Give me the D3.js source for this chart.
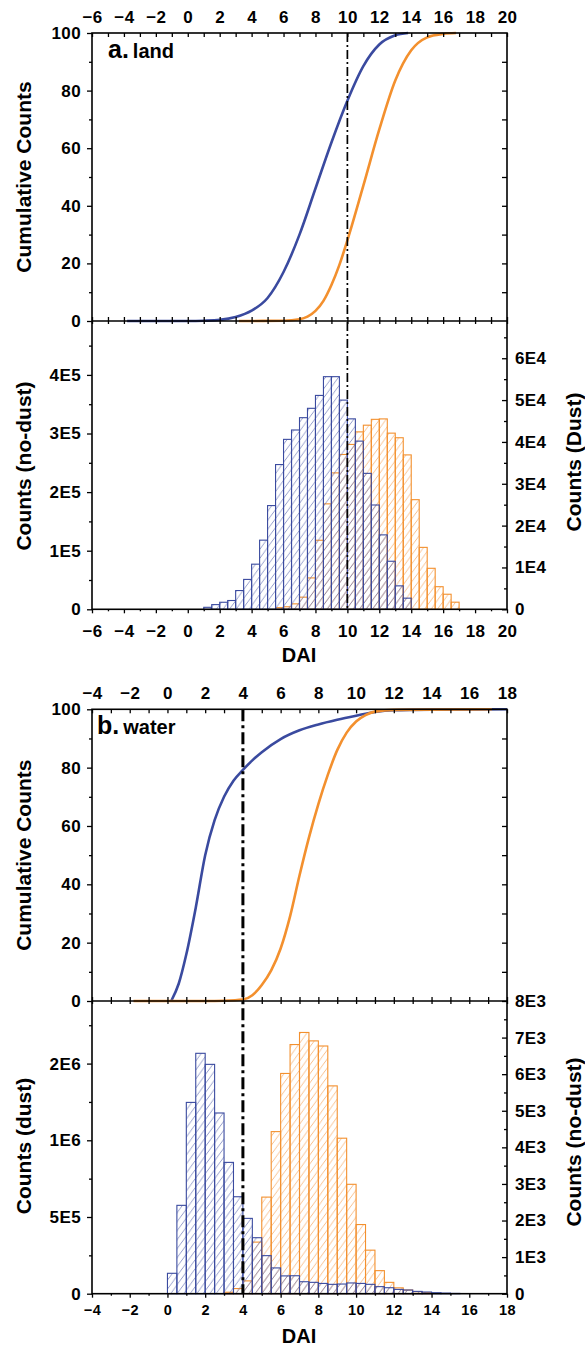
<!DOCTYPE html>
<html>
<head>
<meta charset="utf-8">
<script src="https://cdn.jsdelivr.net/npm/d3@7"></script>
<style>
	body { margin: 0; background: #fff; }
	svg text { font-family: "Liberation Sans", Arial, Helvetica, sans-serif; font-weight: bold; fill: #000; }
</style>
</head>
<body>
<div id="chart"></div>
<script>

// DATA
// bin width for all histograms
const BIN = 0.5;

// panel a - land
const landNoDustStart = 1.0;
const landNoDustCounts = [3.4e3, 8e3, 1.2e4, 1.5e4, 3.2e4, 5.1e4, 7.7e4, 1.18e5, 1.77e5, 2.47e5, 2.9e5, 3.06e5, 3.27e5,
	3.43e5, 3.65e5, 3.97e5, 3.97e5, 3.57e5, 3.25e5, 2.87e5, 2.32e5, 1.78e5, 1.27e5, 8.2e4, 4.0e4, 1.9e4];
const landDustStart = 5.5;
const landDustCounts = [400, 600, 1300, 2900, 7500, 16500, 25200, 32600, 37000, 39400, 42400, 44000, 45400,
	45500, 42100, 41000, 36900, 26200, 14800, 9800, 5400, 3600, 1700];
const landCumNoDustX = [-3.8, 0, 1, 2, 3, 4, 5, 6, 7, 8, 9, 10, 11, 12, 13, 13.8];
const landCumNoDustY = [0, 0, 0.1, 0.4, 1.4, 3.6, 8, 17, 30, 46, 62, 76.5, 88.5, 96, 99.2, 100];
const landCumDustX = [3.2, 6, 7, 7.5, 8, 8.5, 9, 9.5, 10, 11, 12, 13, 14, 15, 16, 16.8];
const landCumDustY = [0, 0.1, 0.6, 1.5, 3.5, 7, 12.5, 19.5, 28, 47, 66.5, 83.5, 94, 98.5, 99.7, 100];
const landThreshold = 10;

// panel b - water
const waterBlueStart = 0.0;
const waterBlueCounts = [1.33e5, 5.76e5, 1.247e6, 1.567e6, 1.495e6, 1.178e6, 8.56e5, 6.32e5, 4.91e5, 3.65e5, 2.48e5,
	1.68e5, 1.16e5, 1.17e5, 7.8e4, 7.4e4, 6.7e4, 6.1e4, 6.3e4, 7.0e4, 6.7e4, 6.1e4, 4.6e4, 3.9e4, 2.8e4, 2.4e4,
	1.5e4, 1.1e4, 6.5e3, 4e3, 2e3];
const waterOrangeStart = 3.0;
const waterOrangeCounts = [40, 140, 350, 1410, 2640, 4430, 6020, 6810, 7140, 6910, 6770, 5680, 4250, 2990,
	1890, 1190, 630, 310, 160, 100, 55, 27];
const waterCumBlueX = [0.2, 0.6, 1, 1.5, 2, 2.5, 3, 3.5, 4, 4.5, 5, 6, 7, 8, 9, 10, 11, 12, 14, 18];
const waterCumBlueY = [0, 6, 16, 32, 50, 62, 70, 75.5, 79.2, 82.5, 85.3, 89.8, 92.8, 94.8, 96.4, 97.8, 99.1, 99.7, 99.9, 100];
const waterCumOrangeX = [-1.8, 2, 3, 4, 4.5, 5, 5.5, 6, 6.5, 7, 7.5, 8, 8.5, 9, 9.5, 10, 10.5, 11, 12, 17.2];
const waterCumOrangeY = [0, 0, 0.1, 0.5, 2, 5.5, 10.5, 18, 29, 43, 56, 67.5, 77.5, 86, 92, 95.8, 98, 99.2, 99.8, 100];
const waterThreshold = 4;

// tick labels
const landLeftTicks = [0, 1e5, 2e5, 3e5, 4e5];
const landLeftLabels = ["0", "1E5", "2E5", "3E5", "4E5"];
const landRightTicks = [0, 1e4, 2e4, 3e4, 4e4, 5e4, 6e4];
const landRightLabels = ["0", "1E4", "2E4", "3E4", "4E4", "5E4", "6E4"];
const waterLeftTicks = [0, 5e5, 1e6, 1.5e6];
const waterLeftLabels = ["0", "5E5", "1E6", "2E6"];
const waterRightTicks = [0, 1e3, 2e3, 3e3, 4e3, 5e3, 6e3, 7e3, 8e3];
const waterRightLabels = ["0", "1E3", "2E3", "3E3", "4E3", "5E3", "6E3", "7E3", "8E3"];

// colours
const BLUE = "#3a4a9f";
const ORANGE = "#f3902e";


const svg = d3.select("#chart").append("svg")
	.attr("width", 585)
	.attr("height", 1346);

// hatch patterns
const defs = svg.append("defs");
const hatch = (id, color) => {
	defs.append("pattern")
		.attr("id", id)
		.attr("patternUnits", "userSpaceOnUse")
		.attr("width", 6.5)
		.attr("height", 9)
		.append("path")
		.attr("d", "M-6.5,9L0,0M0,9L6.5,0M6.5,9L13,0")
		.attr("stroke", color)
		.attr("stroke-width", 0.7);
};
hatch("hatch-blue", "#6874b6");
hatch("hatch-orange", "#f5a65e");


const bins = (start, counts) => counts.map((c, i) => ({ x0: start + i * BIN, x1: start + (i + 1) * BIN, c }));

const styleAxis = (g, size) => {
	g.select(".domain").remove();
	g.selectAll("line").attr("stroke", "#000").attr("stroke-width", 1.3);
	g.selectAll("text").style("font-size", size + "px").style("letter-spacing", "0.4px");
};


function drawPanel(p) {
	const g = svg.append("g");
	const x = d3.scaleLinear().domain(p.xDomain).range([92, 507]);
	const yCum = d3.scaleLinear().domain([0, 100]).range([p.yMid, p.yTop]);
	const yL = d3.scaleLinear().domain([0, p.leftMax]).range([p.yBot, p.yMid]);
	const yR = d3.scaleLinear().domain([0, p.rightMax]).range([p.yBot, p.yMid]);

	const allX = d3.range(p.xDomain[0], p.xDomain[1] + 1, 1);
	const evenX = allX.filter(d => d % 2 === 0);
	const oddX = allX.filter(d => d % 2 !== 0);

	// histograms (transparent, hatched)
	const drawBars = (data, scale, pat, color) => {
		g.append("g").selectAll("rect")
			.data(data)
			.enter()
			.append("rect")
			.attr("x", d => x(d.x0))
			.attr("width", d => x(d.x1) - x(d.x0))
			.attr("y", d => scale(d.c))
			.attr("height", d => p.yBot - scale(d.c))
			.attr("fill", `url(#${pat})`)
			.attr("stroke", color)
			.attr("stroke-width", 1.1);
	};
	drawBars(p.orange, p.orangeScale === "L" ? yL : yR, "hatch-orange", ORANGE);
	drawBars(p.blue, p.blueScale === "L" ? yL : yR, "hatch-blue", BLUE);

	// cumulative curves
	const line = d3.line().x(d => x(d[0])).y(d => yCum(d[1])).curve(d3.curveMonotoneX);
	g.append("path")
		.datum(d3.zip(p.cumBlueX, p.cumBlueY))
		.attr("d", line)
		.attr("fill", "none")
		.attr("stroke", BLUE)
		.attr("stroke-width", 2.6);
	g.append("path")
		.datum(d3.zip(p.cumOrangeX, p.cumOrangeY))
		.attr("d", line)
		.attr("fill", "none")
		.attr("stroke", ORANGE)
		.attr("stroke-width", 2.6);

	// threshold
	g.append("line")
		.attr("x1", x(p.threshold)).attr("x2", x(p.threshold))
		.attr("y1", p.yTop).attr("y2", p.yBot)
		.attr("stroke", "#000")
		.attr("stroke-width", p.thrWidth)
		.attr("stroke-dasharray", p.thrDash);

	// frame
	g.append("rect")
		.attr("x", 92).attr("y", p.yTop)
		.attr("width", 415).attr("height", p.yBot - p.yTop)
		.attr("fill", "none").attr("stroke", "#000").attr("stroke-width", 1.6);
	g.append("line")
		.attr("x1", 92).attr("x2", 507)
		.attr("y1", p.yMid).attr("y2", p.yMid)
		.attr("stroke", "#000").attr("stroke-width", 1.6);

	// top axis
	g.append("g").attr("transform", `translate(0,${p.yTop})`)
		.call(d3.axisTop(x).tickValues(evenX).tickSize(-4).tickPadding(p.topPad).tickFormat(d3.format("d")))
		.call(a => styleAxis(a, 17));
	g.append("g").attr("transform", `translate(0,${p.yTop})`)
		.call(d3.axisTop(x).tickValues(oddX).tickSize(-4).tickFormat(""))
		.call(a => styleAxis(a, 17));

	// middle line ticks (both sides)
	g.append("g").attr("transform", `translate(0,${p.yMid})`)
		.call(d3.axisBottom(x).tickValues(allX).tickSize(-4).tickFormat(""))
		.call(a => styleAxis(a, 17));
	g.append("g").attr("transform", `translate(0,${p.yMid})`)
		.call(d3.axisTop(x).tickValues(allX).tickSize(-3).tickFormat(""))
		.call(a => styleAxis(a, 17));

	// bottom axis
	g.append("g").attr("transform", `translate(0,${p.yBot})`)
		.call(d3.axisBottom(x).tickValues(evenX).tickSize(4).tickPadding(p.botPad).tickFormat(d3.format("d")))
		.call(a => styleAxis(a, p.botFont));
	g.append("g").attr("transform", `translate(0,${p.yBot})`)
		.call(d3.axisBottom(x).tickValues(oddX).tickSize(2).tickFormat(""))
		.call(a => styleAxis(a, 17));

	// cumulative left
	g.append("g").attr("transform", "translate(92,0)")
		.call(d3.axisLeft(yCum).tickValues([0, 20, 40, 60, 80, 100]).tickSize(5).tickPadding(6))
		.call(a => styleAxis(a, 17));
	g.append("g").attr("transform", "translate(92,0)")
		.call(d3.axisLeft(yCum).tickValues([10, 30, 50, 70, 90]).tickSize(3).tickFormat(""))
		.call(a => styleAxis(a, 17));
	// cumulative right
	g.append("g").attr("transform", "translate(507,0)")
		.call(d3.axisRight(yCum).tickValues(d3.range(10, 100, 10)).tickSize(-5).tickFormat(""))
		.call(a => styleAxis(a, 17));

	// histogram left
	g.append("g").attr("transform", "translate(92,0)")
		.call(d3.axisLeft(yL).tickValues(p.leftTicks).tickSize(5).tickPadding(6).tickFormat((d, i) => p.leftLabels[i]))
		.call(a => styleAxis(a, 17));
	g.append("g").attr("transform", "translate(92,0)")
		.call(d3.axisLeft(yL).tickValues(p.leftMinor).tickSize(3).tickFormat(""))
		.call(a => styleAxis(a, 17));
	// histogram right
	g.append("g").attr("transform", "translate(507,0)")
		.call(d3.axisRight(yR).tickValues(p.rightTicks).tickSize(-5).tickPadding(8).tickFormat((d, i) => p.rightLabels[i]))
		.call(a => styleAxis(a, 17));
	g.append("g").attr("transform", "translate(507,0)")
		.call(d3.axisRight(yR).tickValues(p.rightMinor).tickSize(-3).tickFormat(""))
		.call(a => styleAxis(a, 17));

	// titles
	const vTitle = (text, xPos, yPos) => g.append("text")
		.attr("transform", `translate(${xPos},${yPos}) rotate(-90)`)
		.attr("text-anchor", "middle")
		.style("font-size", "21px")
		.text(text);
	vTitle("Cumulative Counts", 30.5, (p.yTop + p.yMid) / 2);
	vTitle(p.leftTitle, 30.5, p.leftTitleY);
	vTitle(p.rightTitle, 581, p.rightTitleY);

	g.append("text")
		.attr("x", 299).attr("y", p.daiY)
		.attr("text-anchor", "middle")
		.style("font-size", "20px")
		.text("DAI");

	const lab = g.append("text").attr("x", p.labX).attr("y", p.labY);
	lab.append("tspan").style("font-size", "25px").text(p.labA);
	lab.append("tspan").style("font-size", "20px").attr("dx", 4).text(p.labB);
}


// panel a
drawPanel({
	xDomain: [-6, 20],
	yTop: 33, yMid: 321, yBot: 609.3,
	leftMax: 4.92e5, rightMax: 6.89e4,
	blue: bins(landNoDustStart, landNoDustCounts), blueScale: "L",
	orange: bins(landDustStart, landDustCounts), orangeScale: "R",
	cumBlueX: landCumNoDustX, cumBlueY: landCumNoDustY,
	cumOrangeX: landCumDustX, cumOrangeY: landCumDustY,
	threshold: landThreshold, thrWidth: 1.7, thrDash: "9,3,2,3",
	topPad: 10, botPad: 11.5, botFont: 17,
	leftTicks: landLeftTicks, leftLabels: landLeftLabels, leftMinor: d3.range(5e4, 4.6e5, 1e5),
	rightTicks: landRightTicks, rightLabels: landRightLabels, rightMinor: d3.range(5e3, 6.6e4, 1e4),
	leftTitle: "Counts (no-dust)", leftTitleY: 466,
	rightTitle: "Counts (Dust)", rightTitleY: 462,
	daiY: 662,
	labX: 108, labY: 58, labA: "a.", labB: "land"
});

// panel b
drawPanel({
	xDomain: [-4, 18],
	yTop: 709.3, yMid: 1001, yBot: 1293.7,
	leftMax: 1.908e6, rightMax: 8000,
	blue: bins(waterBlueStart, waterBlueCounts), blueScale: "L",
	orange: bins(waterOrangeStart, waterOrangeCounts), orangeScale: "R",
	cumBlueX: waterCumBlueX, cumBlueY: waterCumBlueY,
	cumOrangeX: waterCumOrangeX, cumOrangeY: waterCumOrangeY,
	threshold: waterThreshold, thrWidth: 3, thrDash: "12,4,3,4",
	topPad: 10.5, botPad: 7, botFont: 14.5,
	leftTicks: waterLeftTicks, leftLabels: waterLeftLabels, leftMinor: [2.5e5, 7.5e5, 1.25e6, 1.75e6],
	rightTicks: waterRightTicks, rightLabels: waterRightLabels, rightMinor: d3.range(500, 8000, 1000),
	leftTitle: "Counts (dust)", leftTitleY: 1146,
	rightTitle: "Counts (no-dust)", rightTitleY: 1142,
	daiY: 1343,
	labX: 97, labY: 734, labA: "b.", labB: "water"
});
</script>
</body>
</html>
